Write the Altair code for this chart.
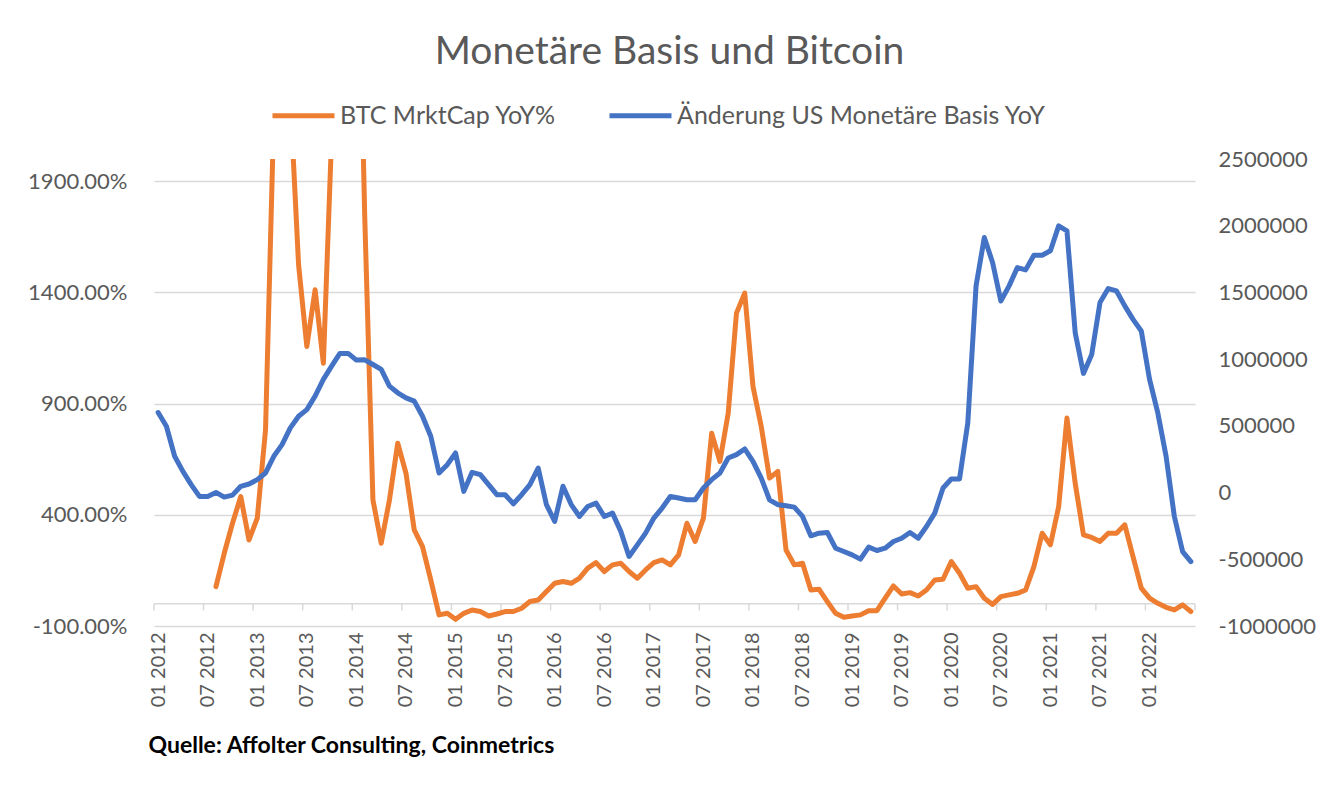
import json
import altair as alt
import pandas as pd

# ---------------- data ----------------
months = []
for yr in range(2012, 2023):
    for mo in range(1, 13):
        months.append(f"{mo:02d} {yr}")
months = months[:126]  # 01 2012 .. 06 2022

tick_labels = [months[i] for i in range(0, 126, 6)]  # 01 2012 ... 01 2022

BTC_NAME = "BTC MrktCap YoY%"
BASE_NAME = "Änderung US Monetäre Basis YoY"

# BTC market cap YoY change in % (left axis); no value for the first 7 months
btc = [None] * 7 + [
    77, 227, 362, 482, 287, 385, 782, 2200, 3000, 2270,
    1524, 1157, 1412, 1082, 2100, 3000, 3500, 3400, 1750, 467,
    272, 467, 722, 587, 332, 257, 107, -50, -43, -70,
    -43, -28, -35, -55, -46, -35, -35, -20, 10, 17,
    55, 92, 100, 92, 115, 160, 185, 145, 175, 182,
    145, 115, 152, 185, 197, 175, 220, 362, 280, 385,
    767, 640, 857, 1307, 1397, 977, 797, 565, 595, 242,
    175, 182, 62, 65, 10, -43, -61, -55, -50, -31,
    -31, 25, 80, 44, 50, 35, 62, 107, 110, 190,
    137, 70, 77, 25, -3, 32, 40, 47, 62, 167,
    317, 265, 437, 835, 542, 310, 298, 280, 317, 317,
    355, 212, 70, 25, 2, -16, -28, -5, -35,
]

# YoY change of US monetary base (right axis)
base = [
    600000, 497000, 272000, 159000, 60000, -29000, -29000, 1000, -34000, -19000,
    47000, 64000, 97000, 147000, 272000, 359000, 485000, 572000, 622000, 723000,
    848000, 948000, 1043000, 1043000, 993000, 995000, 960000, 923000, 798000, 748000,
    710000, 685000, 572000, 422000, 147000, 209000, 297000, 9000, 152000, 134000,
    59000, -16000, -16000, -84000, -16000, 59000, 184000, -91000, -216000, 47000,
    -90000, -179000, -104000, -79000, -179000, -154000, -291000, -479000, -392000, -304000,
    -191000, -116000, -29000, -41000, -54000, -54000, 34000, 97000, 147000, 259000,
    284000, 327000, 234000, 109000, -54000, -91000, -99000, -109000, -179000, -324000,
    -304000, -299000, -417000, -442000, -467000, -499000, -409000, -434000, -417000, -367000,
    -342000, -299000, -342000, -254000, -154000, 34000, 102000, 102000, 522000, 1549000,
    1912000, 1724000, 1436000, 1549000, 1686000, 1669000, 1779000, 1779000, 1812000, 1999000,
    1962000, 1198000, 893000, 1035000, 1424000, 1529000, 1511000, 1399000, 1298000, 1211000,
    848000, 597000, 272000, -179000, -442000, -517000,
]

left_ticks = [-100, 400, 900, 1400, 1900]
right_ticks = [-1000000, -500000, 0, 500000, 1000000, 1500000, 2000000, 2500000]

TITLE = "Monetäre Basis und Bitcoin"
FOOTER = "Quelle: Affolter Consulting, Coinmetrics"

# ---------------- style ----------------
ORANGE = "#ED7D31"
BLUE = "#4472C4"
GRID = "#D9D9D9"
TEXT = "#595959"
FONT = "Lato"

n = len(months)
idx = list(range(n))
df_btc = pd.DataFrame({"k": idx, "month": months, "value": btc, "series": BTC_NAME}).dropna()
df_base = pd.DataFrame({"k": idx, "month": months, "value": base, "series": BASE_NAME})
df_axis = pd.DataFrame({"x0": [-0.5], "x1": [n - 0.5]})
df_ticks = pd.DataFrame({"pos": [i - 0.5 for i in range(0, n + 1, 6)]})

x_scale = alt.Scale(domain=[-0.5, n - 0.5], nice=False, zero=False)
x_axis = alt.Axis(
    values=list(range(0, n, 6)),
    labelExpr=f"{json.dumps(tick_labels)}[datum.value / 6]",
    labelAngle=-90, labelFont=FONT, labelFontSize=20, labelColor=TEXT,
    labelPadding=6, ticks=False, tickSize=0, domain=False, grid=False,
    labelOverlap=False, labelFlush=False, labelBound=False,
    title=FOOTER, titleFont=FONT, titleFontSize=23, titleFontWeight="bold",
    titleColor="#000000", titleAnchor="start", titleAlign="left",
    titleBaseline="alphabetic", titleX=-6, titleY=126,
)

yl_scale = alt.Scale(domain=[-100, 2000], nice=False, zero=False)
yl_axis = alt.Axis(
    values=left_ticks, labelExpr="datum.value + '.00%'",
    labelFont=FONT, labelFontSize=22, labelColor=TEXT, labelPadding=27,
    ticks=False, tickSize=0, domain=False, grid=True, gridColor=GRID,
    gridWidth=1.5, title=None,
)
yr_scale = alt.Scale(domain=[-1000000, 2500000], nice=False, zero=False)
yr_axis = alt.Axis(
    orient="right", values=right_ticks, labelExpr="'' + datum.value",
    labelFont=FONT, labelFontSize=22, labelColor=TEXT, labelPadding=23,
    ticks=False, tickSize=0, domain=False, grid=False, title=None,
)

color_scale = alt.Scale(domain=[BTC_NAME, BASE_NAME], range=[ORANGE, BLUE])
legend = alt.Legend(
    title=None, orient="none", legendX=116, legendY=-77, direction="horizontal",
    symbolType="stroke", symbolSize=3844, symbolStrokeWidth=5,
    labelFont=FONT, labelFontSize=25, labelColor=TEXT, labelOffset=3,
    columnPadding=42, labelLimit=0, padding=0,
)

LINE_W = 5

axis_line = alt.Chart(df_axis).mark_rule(color=GRID, strokeWidth=1.5).encode(
    x=alt.X("x0:Q", scale=x_scale, axis=x_axis),
    x2="x1:Q",
    y=alt.YDatum(0, scale=yl_scale, axis=yl_axis),
)
tick_marks = alt.Chart(df_ticks).mark_rule(color=GRID, strokeWidth=1.5).encode(
    x=alt.X("pos:Q", scale=x_scale, axis=x_axis),
    y=alt.YDatum(0, scale=yl_scale, axis=yl_axis),
    y2=alt.datum(-30),
)
orange = alt.Chart(df_btc).mark_line(
    strokeWidth=LINE_W, strokeCap="round", strokeJoin="round", clip=True
).encode(
    x=alt.X("k:Q", scale=x_scale, axis=x_axis),
    y=alt.Y("value:Q", scale=yl_scale, axis=yl_axis),
    color=alt.Color("series:N", scale=color_scale, legend=legend),
)
left = alt.layer(axis_line, tick_marks, orange)

blue = alt.Chart(df_base).mark_line(
    strokeWidth=LINE_W, strokeCap="round", strokeJoin="round"
).encode(
    x=alt.X("k:Q", scale=x_scale, axis=x_axis),
    y=alt.Y("value:Q", scale=yr_scale, axis=yr_axis),
    color=alt.Color("series:N", scale=color_scale, legend=legend),
)

chart = (
    alt.layer(left, blue)
    .resolve_scale(y="independent")
    .properties(
        width=1041,
        height=467,
        title=alt.TitleParams(
            TITLE, font=FONT, fontSize=39, color=TEXT, fontWeight="normal",
            anchor="middle", frame="group", baseline="alphabetic", offset=19,
            dx=-5, dy=40,
        ),
        padding={"left": 146, "top": 151, "right": 136, "bottom": 151},
        autosize=alt.AutoSizeParams(type="none"),
        background="white",
    )
    .configure_view(stroke=None)
)

chart.save("out.html", embed_options={"renderer": "svg", "actions": False})
